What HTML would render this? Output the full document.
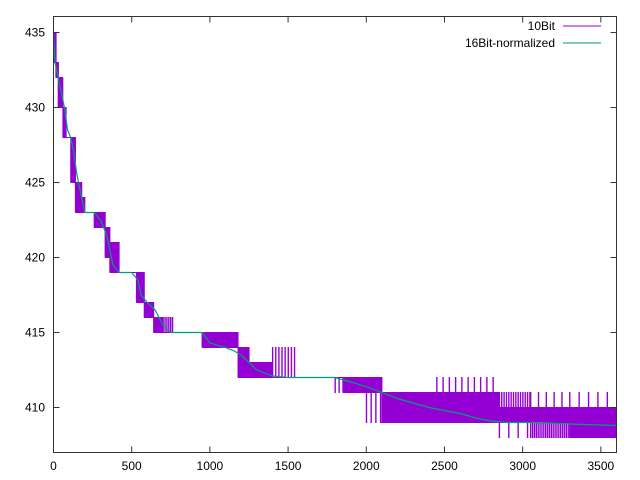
<!DOCTYPE html>
<html><head><meta charset="utf-8"><style>
html,body{margin:0;padding:0;background:#fff;}
svg{display:block;font-family:"Liberation Sans",sans-serif;font-size:12px;}
</style></head><body>
<svg id="chart" width="640" height="480">
<rect x="0" y="0" width="640" height="480" fill="#fff"/>
<g id="series"></g>
<rect x="53.5" y="16.5" width="563" height="436" fill="none" stroke="#333" stroke-width="1"/>
<g id="axes"></g>
<g id="legend">
 <text x="555" y="30" text-anchor="end">10Bit</text>
 <line x1="563" y1="26" x2="601" y2="26" stroke="#9400d3" stroke-width="1"/>
 <text x="555" y="47" text-anchor="end">16Bit-normalized</text>
 <line x1="563" y1="43" x2="601" y2="43" stroke="#009e73" stroke-width="1"/>
</g>
</svg>
<script>
// ---- data ----
const xTicks = [0,500,1000,1500,2000,2500,3000,3500];
const yTicks = [410,415,420,425,430,435];
// 16Bit-normalized series
const smoothX = [0,10,30,50,70,90,110,130,150,170,200,260,300,340,380,420,500,540,560,600,650,700,750,950,1000,1100,1150,1200,1250,1300,1400,1500,1800,1900,2000,2100,2200,2300,2400,2500,2600,2700,2800,2900,3100,3300,3600];
const smoothY = [435,433,432,431,430,428.5,428,427,425.5,424.5,423,423,422.5,421.5,419.5,419,419,418.5,417.5,417,416.5,415.5,415,415,414.3,414,413.8,413.5,413,412.5,412.1,412,412,411.7,411.4,411,410.6,410.3,410,409.8,409.6,409.3,409.1,409,409,408.9,408.8];
// 10Bit series: segments where the 10-bit value sits at a base level and flips to an alternate level
const segX0   = [0,15,30,60,80,110,140,180,200,260,330,360,420,530,580,640,700,770,950,1180,1180,1350,1400,1550,1800,1850,2000,2100,2100,2450,2450,2450,2850,2850,2850,3050,3050,3050,3300,3300,3300];
const segX1   = [15,30,60,80,110,140,180,200,260,330,360,420,530,580,640,700,770,950,1180,1350,1250,1400,1550,1800,1850,2100,2100,2450,2450,2850,2850,2850,3050,3050,3050,3300,3300,3300,3600,3600,3600];
const segBase = [433,432,432,428,428,425,423,423,423,422,420,419,419,417,416,415,415,415,414,412,413,412,412,412,412,411,411,410,410,410,410,411,409,410,409,409,409,410,408,409,410];
const segAlt  = [435,433,430,430,428,428,425,424,423,423,422,421,419,419,417,416,416,415,415,413,414,413,414,412,411,412,409,411,409,411,409,412,410,411,408,410,408,411,409,410,411];
const segEvery= [2,2,3,2,20,2,2,6,20,2,2,3,20,2,2,2,12,20,2.5,2,2,4,20,20,25,2.5,30,2,6,2,2.5,40,3,15,60,3,12,50,2.5,5,60];

// ---- axes ----
const X0=53.5, X1=616.5, Y0=452.5, Y1=16.5;
const xMin=0,xMax=3600,yMin=407,yMax=436.07;
const sx=v=>X0+(v-xMin)/(xMax-xMin)*(X1-X0);
const sy=v=>Y0-(v-yMin)/(yMax-yMin)*(Y0-Y1);
const NS="http://www.w3.org/2000/svg";
const axes=document.getElementById('axes');
const series=document.getElementById('series');
function mk(tag,attrs,parent){const e=document.createElementNS(NS,tag);for(const k in attrs)e.setAttribute(k,attrs[k]);parent.appendChild(e);return e;}

xTicks.forEach(t=>{
  const x=sx(t);
  const a=mk('line',{x1:x,y1:Y0,x2:x,y2:Y0-6,stroke:'#333'},axes);
  
  
  const b=mk('line',{x1:x,y1:Y1,x2:x,y2:Y1+6,stroke:'#333'},axes);
  
  
  const l=mk('text',{x:x,y:470,'text-anchor':'middle'},axes);
  l.textContent=t;
  
  
});
yTicks.forEach(t=>{
  const y=sy(t);
  const a=mk('line',{x1:X0,y1:y,x2:X0+6,y2:y,stroke:'#333'},axes);
  
  
  const b=mk('line',{x1:X1,y1:y,x2:X1-6,y2:y,stroke:'#333'},axes);
  
  
  const l=mk('text',{x:45,y:y+4,'text-anchor':'end'},axes);
  l.textContent=t;
  
  
});

// 10Bit: base line with vertical flips
for(let i=0;i<segX0.length;i++){
  const yb=sy(segBase[i]).toFixed(2), ya=sy(segAlt[i]).toFixed(2);
  let d='M'+sx(segX0[i]).toFixed(2)+','+yb;
  if(segBase[i]!==segAlt[i]){
    for(let x=segX0[i];x<segX1[i];x+=segEvery[i]){
      const px=sx(x);
      d+=' H'+px.toFixed(2)+' V'+ya+' H'+(px+0.4).toFixed(2)+' V'+yb;
    }
  }
  d+=' H'+sx(segX1[i]).toFixed(2);
  const p=mk('path',{d:d,fill:'none',stroke:'#9400d3','stroke-width':1},series);
  
  
}

// 16Bit
const p16=mk('polyline',{points:smoothX.map((x,i)=>sx(x).toFixed(2)+','+sy(smoothY[i]).toFixed(2)).join(' '),fill:'none',stroke:'#009e73','stroke-width':1.2},series);


</script>
</body></html>
